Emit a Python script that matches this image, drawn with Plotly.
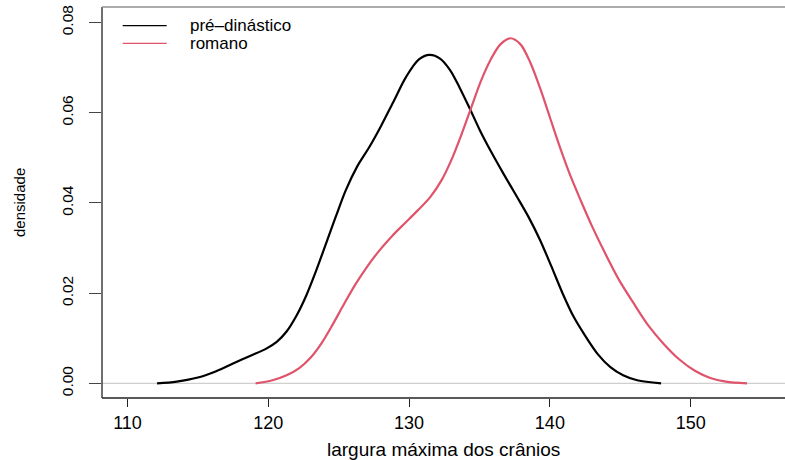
import plotly.graph_objects as go

# Kernel density estimates of maximum skull breadth, read at sample points
pre_x = [112.1, 113.5, 115.0, 116.3, 117.5, 118.7, 119.8, 120.6, 121.3, 122.0,
         122.7, 123.4, 124.1, 124.8, 125.5, 126.3, 127.2, 128.0, 128.9, 129.8,
         130.7, 131.45, 132.2, 132.9, 133.6, 134.3, 135.0, 135.8, 136.7, 137.6,
         138.5, 139.3, 140.1, 140.9, 141.7, 142.5, 143.4, 144.3, 145.2, 146.2, 147.9]
pre_d = [0.0, 0.0004, 0.0013, 0.0027, 0.0044, 0.0061, 0.0076, 0.0092, 0.0115, 0.0150,
         0.0195, 0.0250, 0.0310, 0.0370, 0.0428, 0.0480, 0.0525, 0.0570, 0.0625, 0.0680,
         0.0718, 0.0728, 0.0720, 0.0695, 0.0655, 0.0610, 0.0563, 0.0515, 0.0465, 0.0417,
         0.0368, 0.0318, 0.0260, 0.0200, 0.0147, 0.0106, 0.0065, 0.0036, 0.0018, 0.0007, 0.0]

rom_x = [119.1, 120.3, 121.3, 122.2, 123.0, 123.8, 124.6, 125.4, 126.2, 127.0,
         127.9, 128.8, 129.7, 130.6, 131.5, 132.3, 133.0, 133.7, 134.4, 135.1,
         135.8, 136.5, 137.2, 137.9, 138.6, 139.3, 140.0, 140.7, 141.4, 142.2,
         143.0, 143.9, 144.9, 145.9, 147.0, 148.1, 149.2, 150.3, 151.4, 152.5, 154.0]
rom_d = [0.0, 0.0007, 0.0018, 0.0034, 0.0057, 0.0090, 0.0132, 0.0177, 0.0220, 0.0258,
         0.0295, 0.0327, 0.0355, 0.0383, 0.0413, 0.0450, 0.0495, 0.0550, 0.0610, 0.0670,
         0.0718, 0.0752, 0.0765, 0.0752, 0.0712, 0.0655, 0.0590, 0.0525, 0.0465, 0.0405,
         0.0348, 0.0290, 0.0230, 0.0180, 0.0128, 0.0087, 0.0053, 0.0028, 0.0012, 0.0004, 0.0]

x_ticks = [110, 120, 130, 140, 150]
y_ticks = [0.00, 0.02, 0.04, 0.06, 0.08]
y_tick_text = ["0.00", "0.02", "0.04", "0.06", "0.08"]

series_names = ["pré–dinástico", "romano"]
series_colors = ["#000000", "#DF536B"]

FONT = "Liberation Sans, Arial, Helvetica, sans-serif"

fig = go.Figure()

# zero reference line
fig.add_hline(y=0, line=dict(color="#cfcfcf", width=1.2), layer="below")

for xs, ds, name, col in [(pre_x, pre_d, series_names[0], series_colors[0]),
                          (rom_x, rom_d, series_names[1], series_colors[1])]:
    fig.add_trace(go.Scatter(
        x=xs, y=ds, mode="lines", name=name,
        line=dict(color=col, width=2.2, shape="spline", smoothing=0.9),
        showlegend=False, hoverinfo="x+y",
    ))

# frame: dark left and bottom, lighter top
fig.add_shape(type="line", xref="paper", yref="paper", x0=0, x1=0, y0=0, y1=1,
              line=dict(color="#222222", width=1.3))
fig.add_shape(type="line", xref="paper", yref="paper", x0=0, x1=1, y0=0, y1=0,
              line=dict(color="#222222", width=1.3))
fig.add_shape(type="line", xref="paper", yref="paper", x0=0, x1=1, y0=1, y1=1,
              line=dict(color="#909090", width=1.3))

# legend drawn as short line samples with labels
plot_w = 785 - 102
plot_h = 398 - 7
leg_rows = [25.7, 43.3]
for name, col, py in zip(series_names, series_colors, leg_rows):
    yy = (398 - py) / plot_h
    fig.add_shape(type="line", xref="paper", yref="paper",
                  x0=(122.7 - 102) / plot_w, x1=(166.7 - 102) / plot_w, y0=yy, y1=yy,
                  line=dict(color=col, width=1.3))
    fig.add_annotation(xref="paper", yref="paper", x=(188 - 102) / plot_w, y=yy,
                       text=name, showarrow=False, xanchor="left", yanchor="middle",
                       font=dict(family=FONT, size=17, color="#000000"))

# axis titles
fig.add_annotation(xref="paper", yref="paper", x=0.5, y=0, yshift=-51,
                   text="largura máxima dos crânios", showarrow=False,
                   xanchor="center", yanchor="middle",
                   font=dict(family=FONT, size=19, color="#000000"))
fig.add_annotation(xref="paper", yref="paper", x=0, xshift=-82.5, y=0.5,
                   text="densidade", showarrow=False, textangle=-90,
                   xanchor="center", yanchor="middle",
                   font=dict(family=FONT, size=15, color="#000000"))

fig.update_layout(
    width=785, height=460,
    margin=dict(l=102, r=0, t=7, b=62, pad=0),
    paper_bgcolor="white", plot_bgcolor="white",
    xaxis=dict(range=[108.19, 156.70], tickvals=x_ticks,
               ticks="outside", ticklen=8, tickwidth=1.2, tickcolor="#222222",
               showgrid=False, zeroline=False, showline=False,
               tickfont=dict(family=FONT, size=18, color="#000000"),
               ticklabelstandoff=0),
    yaxis=dict(range=[-0.00323, 0.08343], tickvals=y_ticks, ticktext=y_tick_text,
               ticks="outside", ticklen=12, tickwidth=1.2, tickcolor="#444444",
               showgrid=False, zeroline=False, showline=False, tickangle=-90,
               tickfont=dict(family=FONT, size=15.5, color="#000000"),
               ticklabelstandoff=10),
)

fig.write_html("out.html")
